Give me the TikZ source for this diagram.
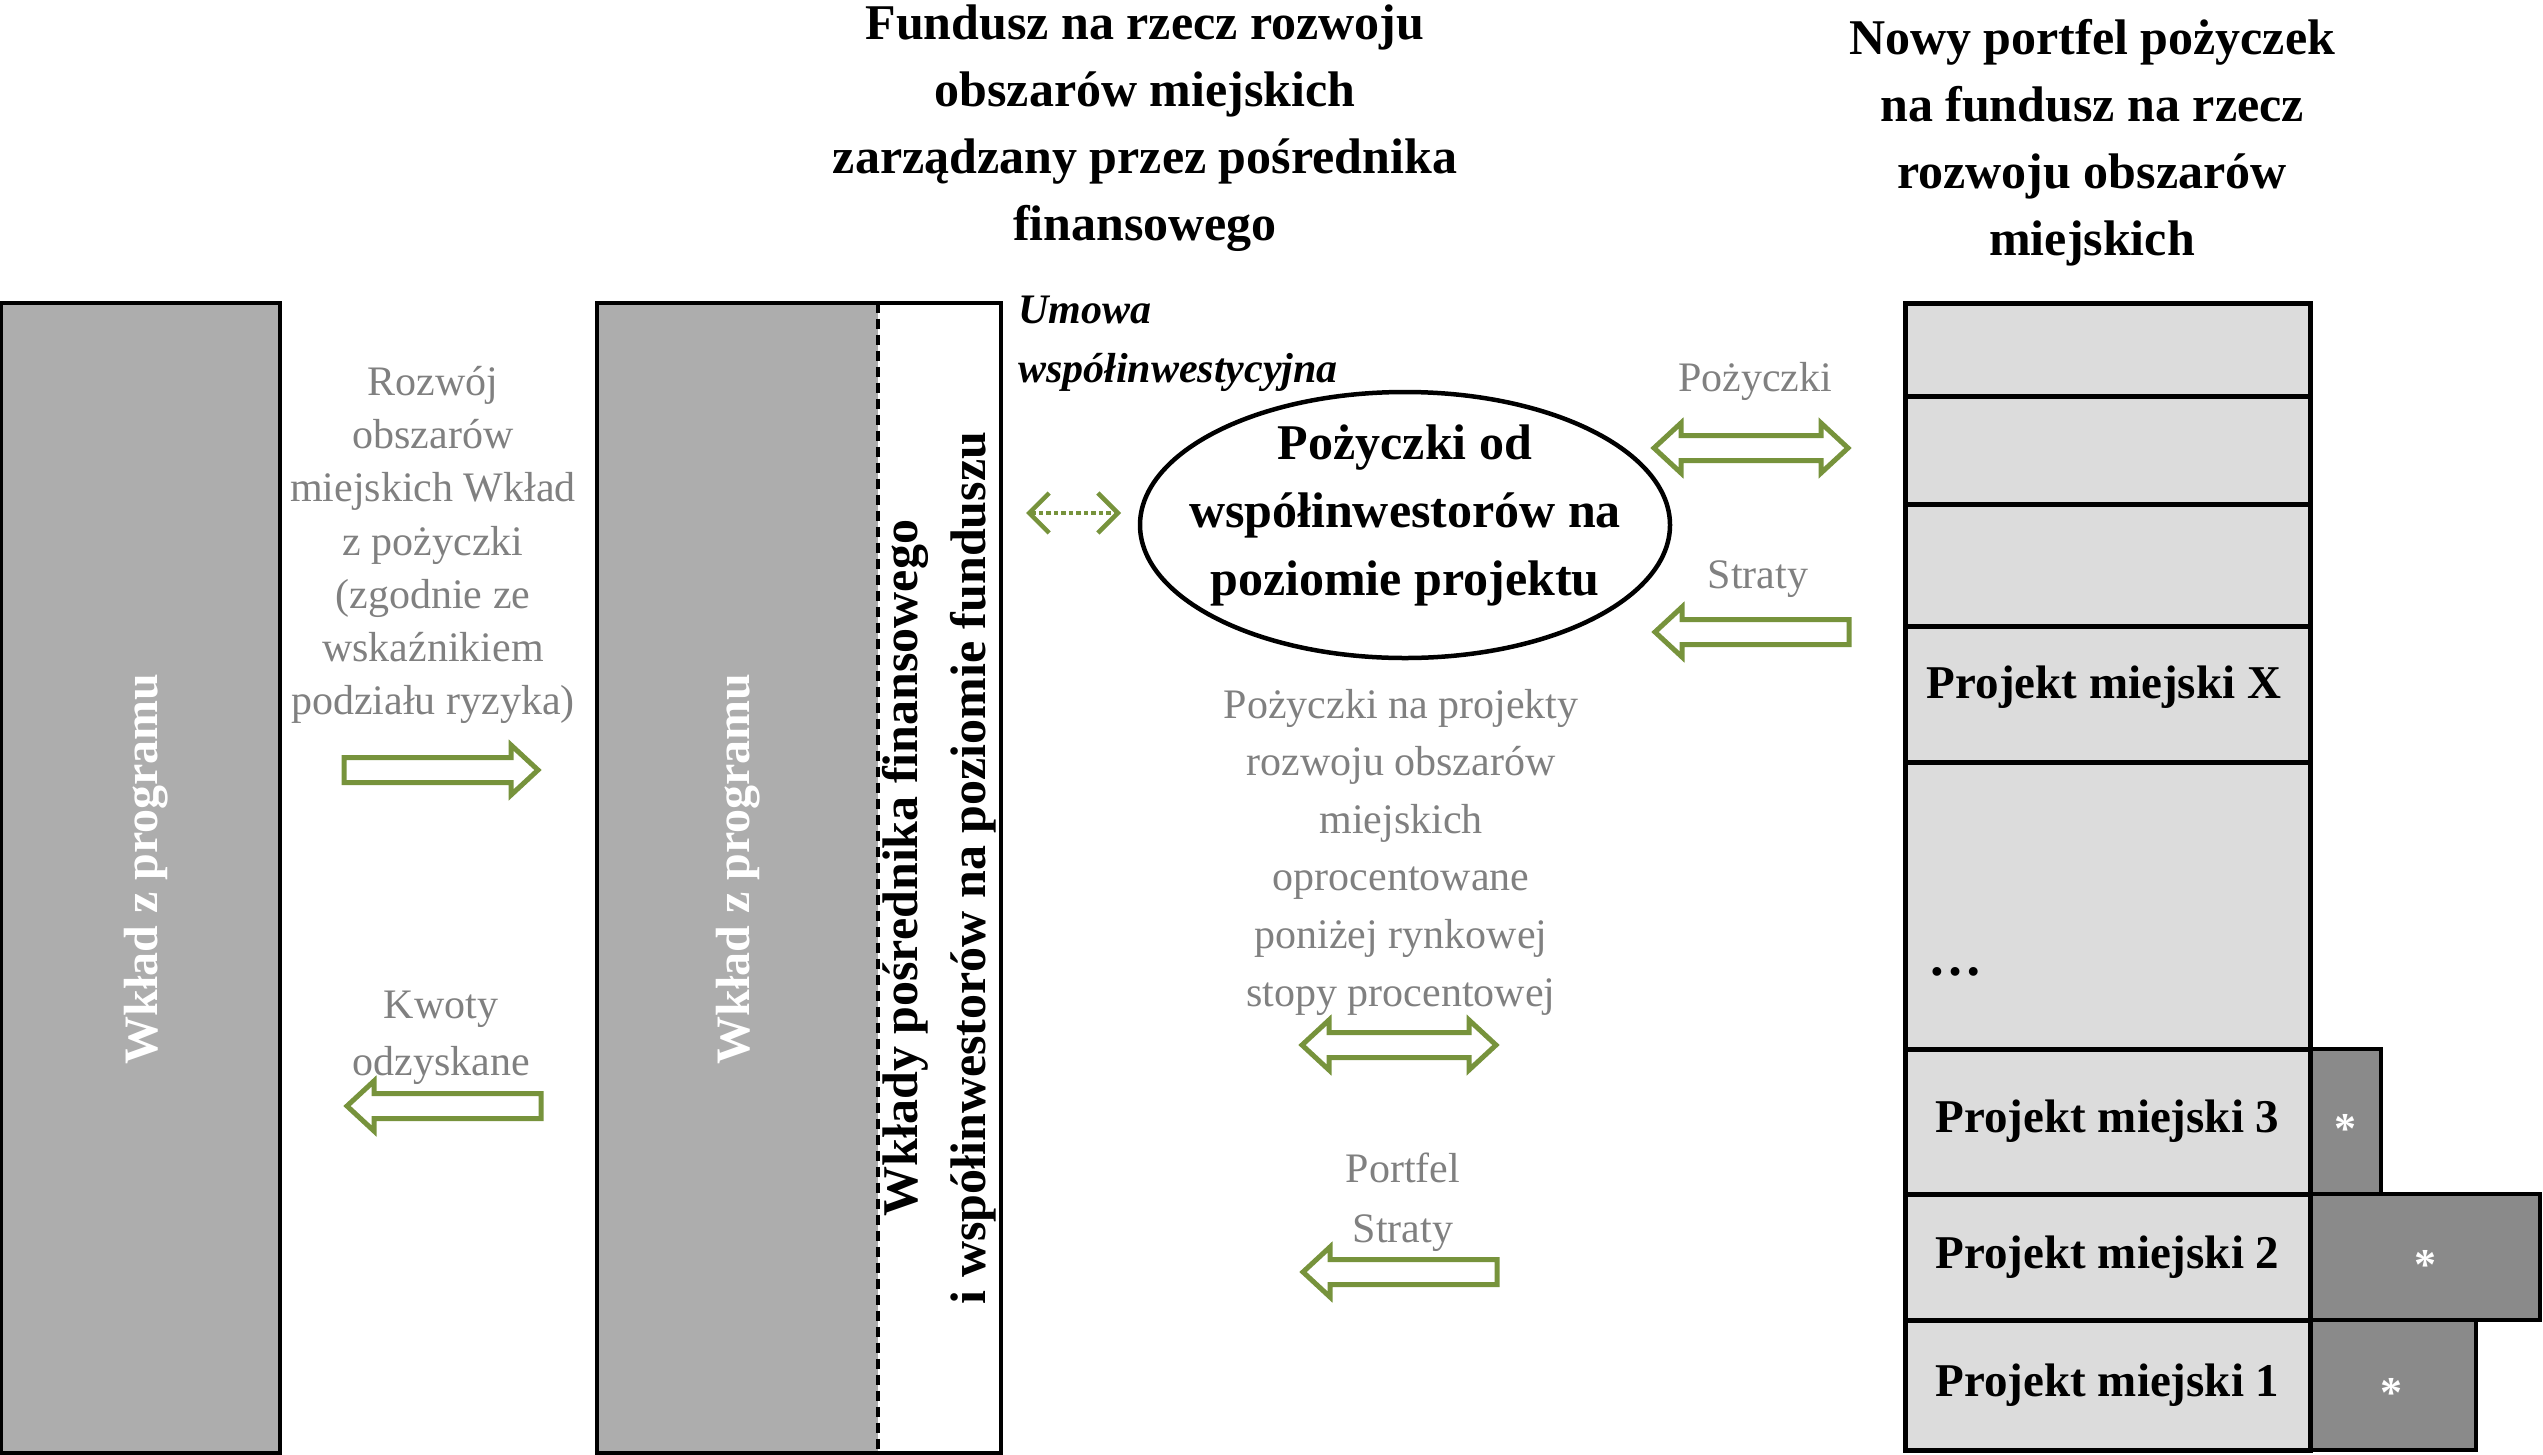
\documentclass[tikz,border=0pt]{standalone}
\usepackage{fontspec}
\setmainfont{Liberation Serif}
\usetikzlibrary{shapes.geometric,arrows.meta}
\definecolor{bargray}{HTML}{ADADAD}
\definecolor{lightcell}{HTML}{DCDCDC}
\definecolor{darkcell}{HTML}{8A8A8A}
\definecolor{agreen}{HTML}{77933C}
\definecolor{tgray}{HTML}{808080}
\begin{document}
\begin{tikzpicture}[x=1pt,y=-1pt,
  graytxt/.style={text=tgray, align=center, inner sep=0pt, font=\fontsize{42}{#1}\selectfont},
  titletxt/.style={align=center, inner sep=0pt, font=\bfseries\fontsize{50}{67}\selectfont},
  barbox/.style={draw=black, fill=bargray, line width=4pt, inner sep=0pt},
  bartxt/.style={rotate=90, text=white, inner sep=0pt, font=\bfseries\fontsize{48}{48}\selectfont},
  cell/.style={draw=black, fill=lightcell, line width=5pt, inner sep=0pt, minimum width=405, font=\bfseries\fontsize{47}{56}\selectfont},
  celltxt/.style={inner sep=0pt, font=\bfseries\fontsize{47}{56}\selectfont},
  darkbox/.style={draw=black, fill=darkcell, line width=4.5pt, inner sep=0pt},
  startxt/.style={inner sep=0pt, text=white, font=\bfseries\fontsize{44}{44}\selectfont},
  blockarrow/.style={draw=agreen, line width=5pt, fill=white, line join=miter},
  dotarrow/.style={agreen, line width=4.5pt, dash pattern=on 4.5pt off 3pt,
    {Straight Barb[length=20pt,width=40pt,line width=4.5pt]}-{Straight Barb[length=20pt,width=40pt,line width=4.5pt]}},
  pics/rblock/.style={code={\draw[blockarrow] (-97,-12.5) -- (70,-12.5) -- (70,-25) -- (97,0) -- (70,25) -- (70,12.5) -- (-97,12.5) -- cycle;}},
  pics/lblock/.style={code={\draw[blockarrow] (97,-12.5) -- (-70,-12.5) -- (-70,-25) -- (-97,0) -- (-70,25) -- (-70,12.5) -- (97,12.5) -- cycle;}},
  pics/dblock/.style={code={\draw[blockarrow] (-97,0) -- (-70,-25) -- (-70,-12.5) -- (70,-12.5) -- (70,-25) -- (97,0) -- (70,25) -- (70,12.5) -- (-70,12.5) -- (-70,25) -- cycle;}}
]
\useasboundingbox (0,0) rectangle (2543,1454);

% titles
\node[titletxt] (h1) at (1145,128) {Fundusz na rzecz rozwoju\\obszarów miejskich\\zarządzany przez pośrednika\\finansowego};
\node[titletxt] (h2) at (2092,143) {Nowy portfel pożyczek\\na fundusz na rzecz\\rozwoju obszarów\\miejskich};

% left bar
\node[barbox, minimum width=279, minimum height=1150] (bar1) at (140.5,878) {};
\node[bartxt] (bar1txt) at (146,869) {Wkład z programu};

% second bar
\node[fill=bargray, inner sep=0pt, minimum width=281, minimum height=1150] (bar2g) at (737.5,878) {};
\node[draw=black, line width=4pt, inner sep=0pt, minimum width=404, minimum height=1150] (bar2) at (799,878) {};
\draw[line width=3.5pt, dash pattern=on 10pt off 6pt] (bar2g.north east) -- (bar2g.south east);
\node[bartxt] (bar2txt) at (738,869) {Wkład z programu};
\node[rotate=90, align=center, inner sep=0pt, font=\bfseries\fontsize{50}{68}\selectfont] (bar2txt2) at (939,868) {Wkłady pośrednika finansowego\\i współinwestorów na poziomie funduszu};

% left texts and arrows
\node[graytxt=53.3] (t1) at (433,545) {Rozwój\\obszarów\\miejskich Wkład\\z pożyczki\\(zgodnie ze\\wskaźnikiem\\podziału ryzyka)};
\pic at (441,770) {rblock};
\node[graytxt=57] (t2) at (441,1038) {Kwoty\\odzyskane};
\pic at (444,1106) {lblock};

% agreement
\node[anchor=west, align=left, inner sep=0pt, font=\bfseries\itshape\fontsize{42}{59}\selectfont] (umowa) at (1018,344) {Umowa\\współinwestycyjna};
\coordinate (dl) at (1026,513);
\coordinate (dr) at (1121,513);
\draw[dotarrow] (dl) -- (dr);

% ellipse
\node[draw=black, ellipse, line width=4.5pt, minimum width=530, minimum height=266, inner sep=0pt] (ell) at (1405,525) {};
\node[align=center, inner sep=0pt, font=\bfseries\fontsize{50}{68}\selectfont] (elltxt) at (1405,515) {Pożyczki od\\współinwestorów na\\poziomie projektu};

% middle texts and arrows
\node[graytxt=57.6] (t3) at (1401,852) {Pożyczki na projekty\\rozwoju obszarów\\miejskich\\oprocentowane\\poniżej rynkowej\\stopy procentowej};
\pic at (1399,1045) {dblock};
\node[graytxt=60] (t4) at (1403,1202) {Portfel\\Straty};
\pic at (1400,1272) {lblock};

% right arrows
\node[graytxt=50] (t5) at (1755,381) {Pożyczki};
\pic at (1751,448) {dblock};
\node[graytxt=50] (t6) at (1758,579) {Straty};
\pic at (1752,632) {lblock};

% dark boxes
\node[darkbox, minimum width=71, minimum height=145] (d3) at (2345.5,1121.5) {};
\node[darkbox, minimum width=230, minimum height=126] (d2) at (2425,1257) {};
\node[darkbox, minimum width=166, minimum height=130] (d1) at (2393,1385) {};
\node[startxt] (s3) at (2345,1129) {*};
\node[startxt] (s2) at (2425,1265) {*};
\node[startxt] (s1) at (2391,1393) {*};

% right column
\node[cell, minimum height=93] (r1) at (2107.5,349.5) {};
\node[cell, minimum height=108] (r2) at (2107.5,450) {};
\node[cell, minimum height=122] (r3) at (2107.5,565) {};
\node[cell, minimum height=136] (rX) at (2107.5,694) {};
\node[celltxt] (rXtxt) at (2104,687) {Projekt miejski X};
\node[cell, minimum height=287] (rdots) at (2107.5,905.5) {};
\node[cell, minimum height=145] (p3) at (2107.5,1121.5) {Projekt miejski 3};
\node[cell, minimum height=126] (p2) at (2107.5,1257) {Projekt miejski 2};
\node[cell, minimum height=130] (p1) at (2107.5,1385) {Projekt miejski 1};
\node[inner sep=0pt, font=\bfseries\fontsize{54}{54}\selectfont] (dots) at (1955,972) {…};
\end{tikzpicture}
\end{document}
